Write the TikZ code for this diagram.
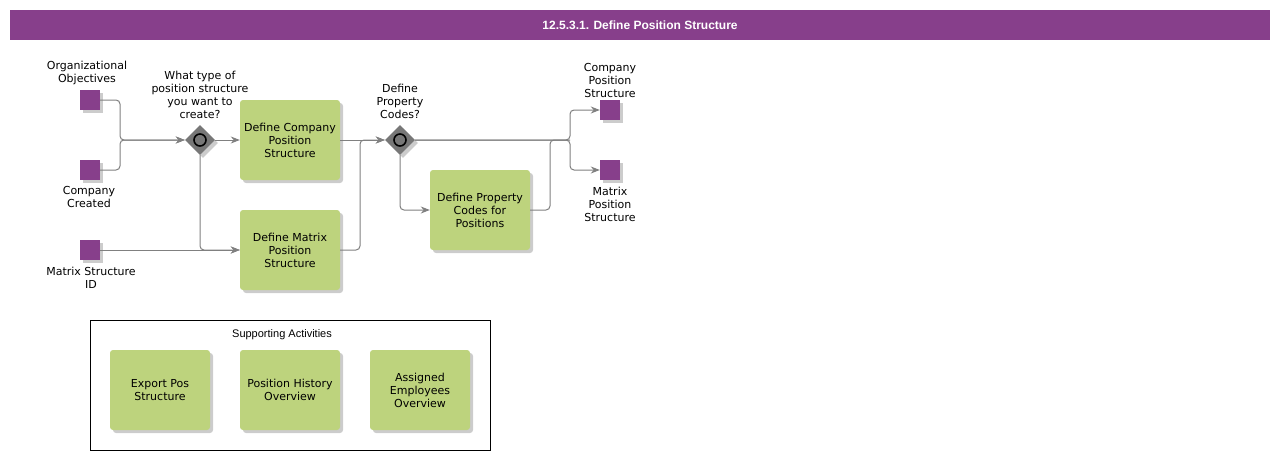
\documentclass[tikz,border=0pt]{standalone}
\usepackage{fontspec}
\setmainfont{DejaVu Sans}
\newfontfamily\arialf{Liberation Sans}
\usetikzlibrary{arrows.meta,shadows,shapes.geometric}
\definecolor{bpurple}{HTML}{873F8B}
\definecolor{bgreen}{HTML}{BDD37D}
\definecolor{bline}{HTML}{808080}
\definecolor{gwfill}{HTML}{777777}
\begin{document}
\begin{tikzpicture}[x=1pt,y=-1pt,
  lbl/.style={font=\fontsize{11}{13}\selectfont, align=center, inner sep=0pt},
  shad/.style={drop shadow={shadow xshift=3pt,shadow yshift=-3pt,fill=black,opacity=0.2}},
  task/.style={fill=bgreen, rounded corners=3pt, minimum width=100pt, minimum height=80pt,
    inner sep=0pt, align=center, font=\fontsize{11}{13}\selectfont, shad},
  dobj/.style={fill=bpurple, minimum size=20pt, inner sep=0pt, shad},
  gw/.style={diamond, fill=gwfill, minimum width=30pt, minimum height=30pt, inner sep=0pt, shad},
  flow/.style={draw=bline, line width=1pt, rounded corners=4pt, -{Stealth[length=9pt,width=7pt]}},
  plain/.style={draw=bline, line width=1pt, rounded corners=4pt},
  ]
\useasboundingbox (0,0) rectangle (1280,460);
\fill[white] (0,0) rectangle (1280,460);

% title
\node[fill=bpurple, minimum width=1260pt, minimum height=30pt, inner sep=0pt,
  text=white, font=\arialf\bfseries\fontsize{12}{14}\selectfont] (title) at (640,25)
  {12.5.3.1. Define Position Structure};

% data objects
\node[dobj] (oo) at (90,100) {};
\node[dobj] (cc) at (90,170) {};
\node[dobj] (ms) at (90,250) {};
\node[dobj] (cps) at (610,110) {};
\node[dobj] (mps) at (610,170) {};

\node[lbl] (oolbl) at (87,72.5) {Organizational\\Objectives};
\node[lbl] (cclbl) at (89,196.5) {Company\\Created};
\node[lbl] (mslbl) at (91,277.5) {Matrix Structure\\ID};
\node[lbl] (cpslbl) at (610,80) {Company\\Position\\Structure};
\node[lbl] (mpslbl) at (610,204) {Matrix\\Position\\Structure};

% gateways
\node[gw] (g1) at (200,140) {};
\node[gw] (g2) at (400,140) {};
\draw[line width=1.6pt, fill=gwfill] (g1.center) circle (6);
\draw[line width=1.6pt, fill=gwfill] (g2.center) circle (6);
\node[lbl] (g1lbl) at (200,95) {What type of\\position structure\\you want to\\create?};
\node[lbl] (g2lbl) at (400,101) {Define\\Property\\Codes?};

% tasks
\node[task] (t1) at (290,140) {Define Company\\Position\\Structure};
\node[task] (t2) at (290,250) {Define Matrix\\Position\\Structure};
\node[task] (t3) at (480,210) {Define Property\\Codes for\\Positions};

% connectors
\coordinate (m1) at (120,140);
\coordinate (m2) at (360,140);
\coordinate (m3) at (570,140);
\coordinate (m4) at (550,140);
\draw[flow] (oo.east) -| (m1) -- (g1.west);
\draw[flow] (cc.east) -| (m1) -- (g1.west);
\draw[flow] (g1.east) -- (t1.west);
\draw[flow] (g1.south) |- (t2.west);
\draw[flow] (ms.east) -- (t2.west);
\draw[flow] (t1.east) -- (g2.west);
\draw[flow] (t2.east) -| (m2) -- (g2.west);
\draw[flow] (g2.south) |- (t3.west);
\draw[flow] (g2.east) -- (m3) |- (cps.west);
\draw[flow] (g2.east) -- (m3) |- (mps.west);
\draw[plain] (t3.east) -| (m4) -- (m3);

% supporting activities
\node[draw=black, line width=0.8pt, minimum width=400pt, minimum height=130pt, inner sep=0pt] (sa) at (290,385) {};
\node[font=\arialf\fontsize{11}{13}\selectfont, inner sep=0pt] (salbl) at (282,335) {Supporting Activities};
\node[task] (s1) at (160,390) {Export Pos\\Structure};
\node[task] (s2) at (290,390) {Position History\\Overview};
\node[task] (s3) at (420,390) {Assigned\\Employees\\Overview};
\end{tikzpicture}
\end{document}
